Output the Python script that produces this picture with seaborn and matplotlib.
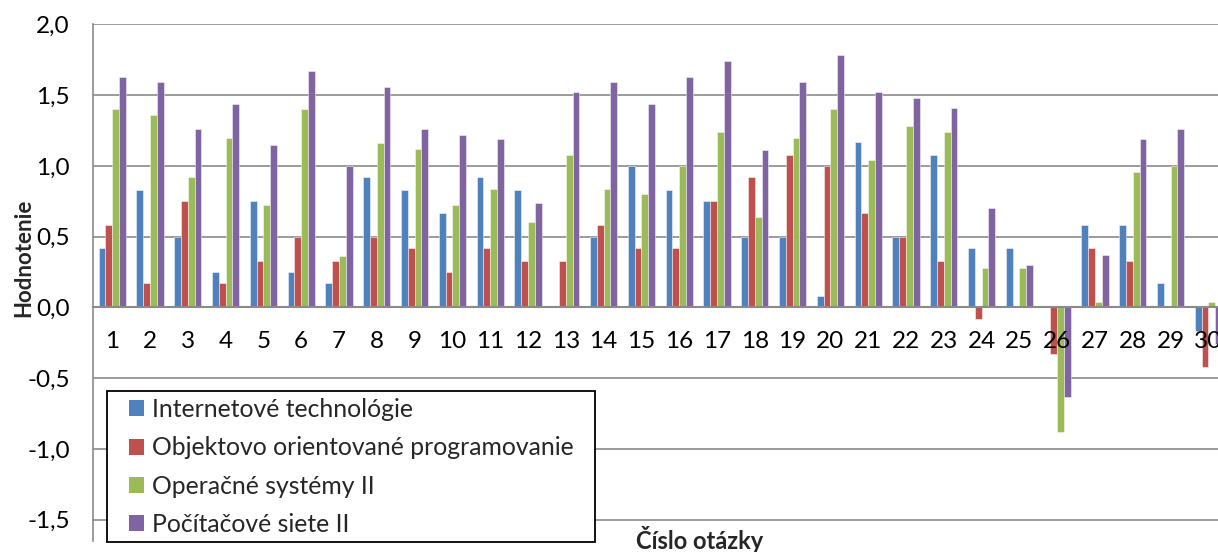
import numpy as np
import pandas as pd
import matplotlib
matplotlib.use("Agg")
import matplotlib.pyplot as plt
import seaborn as sns
from matplotlib.patches import Patch, Rectangle
from matplotlib.ticker import FixedLocator, FuncFormatter

# Question numbers and subject names
questions = [str(i) for i in range(1, 31)]
subjects = [
    "Internetové technológie",
    "Objektovo orientované programovanie",
    "Operačné systémy II",
    "Počítačové siete II",
]

# Average rating per question for each subject
internet_tech = [0.42, 0.83, 0.50, 0.25, 0.75, 0.25, 0.17, 0.92, 0.83, 0.67,
                 0.92, 0.83, 0.00, 0.50, 1.00, 0.83, 0.75, 0.50, 0.50, 0.08,
                 1.17, 0.50, 1.08, 0.42, 0.42, 0.00, 0.58, 0.58, 0.17, -0.17]
oop = [0.58, 0.17, 0.75, 0.17, 0.33, 0.50, 0.33, 0.50, 0.42, 0.25,
       0.42, 0.33, 0.33, 0.58, 0.42, 0.42, 0.75, 0.92, 1.08, 1.00,
       0.67, 0.50, 0.33, -0.08, 0.00, -0.33, 0.42, 0.33, 0.00, -0.42]
os2 = [1.40, 1.36, 0.92, 1.20, 0.72, 1.40, 0.36, 1.16, 1.12, 0.72,
       0.84, 0.60, 1.08, 0.84, 0.80, 1.00, 1.24, 0.64, 1.20, 1.40,
       1.04, 1.28, 1.24, 0.28, 0.28, -0.88, 0.04, 0.96, 1.00, 0.04]
networks2 = [1.63, 1.59, 1.26, 1.44, 1.15, 1.67, 1.00, 1.56, 1.26, 1.22,
             1.19, 0.74, 1.52, 1.59, 1.44, 1.63, 1.74, 1.11, 1.59, 1.78,
             1.52, 1.48, 1.41, 0.70, 0.30, -0.63, 0.37, 1.19, 1.26, -0.26]

y_ticks = [-1.5, -1.0, -0.5, 0.0, 0.5, 1.0, 1.5, 2.0]
colors = ["#4F81BD", "#C0504D", "#9BBB59", "#8064A2"]

df = pd.DataFrame({
    "otazka": questions * 4,
    "predmet": np.repeat(subjects, len(questions)),
    "hodnota": internet_tech + oop + os2 + networks2,
})

sns.set_style("white")
plt.rcParams["font.family"] = ["Lato", "DejaVu Sans"]
FS = 17.5
W, H = 1218, 552

fig = plt.figure(figsize=(W / 100, H / 100), dpi=100)
x0, ytop, ybot = 93.3, 24.3, 541.0
ax = fig.add_axes([x0 / W, 1 - ybot / H, 1 - x0 / W, (ybot - ytop) / H])

grid_c = "#8a8a8a"
# Horizontal gridlines sit behind the bars; the axis (tick labels) stays on top
for yv in y_ticks:
    ax.axhline(yv, color=grid_c, linewidth=1.2, zorder=0.5)

sns.barplot(data=df, x="otazka", y="hodnota", hue="predmet",
            order=questions, hue_order=subjects, palette=colors,
            width=0.715, errorbar=None, edgecolor=(1, 1, 1, 0.55),
            linewidth=0.6, saturation=1, legend=False, ax=ax, zorder=1.5)

ax.set_xlim(-0.5, -0.5 + (W - x0) / 37.8)
ax.set_ylim(-1.65, 2.0)

ax.yaxis.set_major_locator(FixedLocator(y_ticks))
ax.yaxis.set_major_formatter(FuncFormatter(lambda v, p: f"{v:.1f}".replace(".", ",")))
ax.grid(False)
ax.set_axisbelow(False)

for side in ("top", "right"):
    ax.spines[side].set_visible(False)
ax.spines["left"].set_color(grid_c)
ax.spines["left"].set_linewidth(1.2)
ax.spines["bottom"].set_position(("data", 0))
ax.spines["bottom"].set_color(grid_c)
ax.spines["bottom"].set_linewidth(1.5)

ax.tick_params(axis="y", which="major", length=6, width=1.2, color=grid_c,
               direction="out", pad=11, labelsize=FS, labelcolor="black")
ax.set_xticks(range(len(questions)))
ax.set_xticklabels(questions)
ax.tick_params(axis="x", which="major", length=0, pad=17, labelsize=FS,
               labelcolor="black")
ax.xaxis.set_minor_locator(FixedLocator(np.arange(0.5, len(questions), 1.0)))
ax.tick_params(axis="x", which="minor", length=5.5, width=1.2, color=grid_c,
               direction="out")

ax.set_xlabel("")
ax.set_ylabel("")
fig.text(24 / W, 1 - 258 / H, "Hodnotenie", rotation=90, ha="center",
         va="center", fontsize=16, fontweight="bold")
fig.text(700 / W, 1 - 549 / H, "Číslo otázky", ha="center", va="baseline",
         fontsize=17, fontweight="bold")

# Legend box with a white background and a black frame
box = Rectangle((106.7 / W, 1 - 541.7 / H), (595 - 106.7) / W, (541.7 - 390.7) / H,
                transform=fig.transFigure, facecolor="white", edgecolor="black",
                linewidth=1.3, zorder=6, clip_on=False)
ax.add_patch(box)
handles = [Patch(facecolor=c, edgecolor="none") for c in colors]
leg = ax.legend(handles, subjects, loc="upper left",
                bbox_to_anchor=(129 / W, 1 - 398 / H),
                bbox_transform=fig.transFigure, frameon=False,
                fontsize=17.8, borderpad=0, borderaxespad=0,
                handlelength=0.62, handleheight=0.62, handletextpad=0.3,
                labelspacing=0.62)
leg.set_zorder(7)

fig.savefig("out.png", dpi=100)
